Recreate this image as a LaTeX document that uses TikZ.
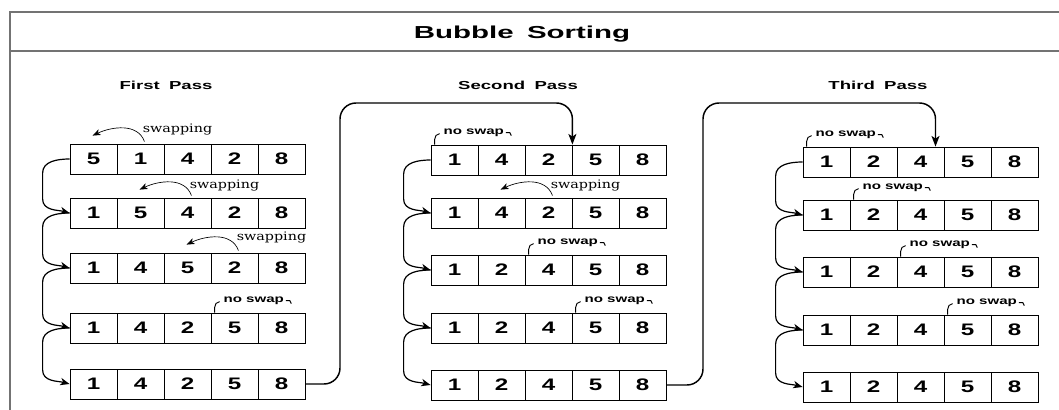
\documentclass[tikz,border=0pt]{standalone}
\usepackage{fontspec}
\setmainfont{Liberation Sans}
\newfontfamily\numfont[FakeStretch=1.45]{Liberation Sans}
\newfontfamily\ttlfont[FakeStretch=1.7]{Liberation Sans}
\newfontfamily\passfont[FakeStretch=1.6]{Liberation Sans}
\newfontfamily\nsfont[FakeStretch=1.45]{Liberation Sans}
\newfontfamily\swfont[FakeStretch=1.22]{DejaVu Serif}
\usetikzlibrary{arrows.meta,calc}

\newcommand\sortrow[4]{%
  \foreach \v [count=\i] in {#4}{%
    \node[cell] (#1c\i) at ({#2+47*\i-23.5},{-#3-15}) {\v};
  }}
\newcommand\swaparc[3]{% #1 from cell, #2 to cell, #3 text shift
  \draw[swaparr] ($(#1.north)+(4,2)$) to[out=110,in=25] ($(#2.north)+(-1,8)$);
  \node[swtext,anchor=west] at ($(#1.north)+(2,#3)$) {swapping};}
\newcommand\noswap[2]{% #1 cell whose west edge carries the foot, #2 name
  \draw[brk] ($(#1.north west)+(4,0)$) -- ++(0,5) to[out=90,in=180] ++(5,6);
  \node[nstext,anchor=west] (#2) at ($(#1.north west)+(12,12)$) {no swap};
  \draw[brk] ($(#2.east)+(1,0)$) -- ++(4,0) -- ++(1.5,-3);}

\begin{document}
\begin{tikzpicture}[x=0.75pt,y=0.75pt,
  cell/.style={draw,line width=0.6pt,minimum width=35.25pt,minimum height=22.5pt,inner sep=0pt,
    font=\numfont\bfseries\fontsize{12.5pt}{14pt}\selectfont},
  conn/.style={line width=0.9pt,-{Stealth[length=7pt,width=5.5pt,inset=2pt]}},
  passconn/.style={line width=1.1pt,rounded corners=12pt,-{Stealth[length=8pt,width=6pt,inset=2pt]}},
  swaparr/.style={line width=0.5pt,-{Stealth[length=6pt,width=4.5pt,inset=1.5pt]}},
  swtext/.style={inner sep=0pt,font=\swfont\fontsize{8.8pt}{10pt}\selectfont},
  nstext/.style={inner sep=0.5pt,font=\nsfont\bfseries\fontsize{7.8pt}{9pt}\selectfont},
  brk/.style={line width=0.7pt},
  frame/.style={draw=black!55,line width=0.8pt},
  ptitle/.style={font=\passfont\bfseries\fontsize{8.7pt}{10pt}\selectfont}]
\useasboundingbox (0,0) rectangle (1059,-410);

% frame and title
\draw[frame] (1059,-12) -- (10,-12) -- (10,-410);
\draw[frame] (10,-51) -- (1059,-51);
\node[font=\ttlfont\bfseries\fontsize{13pt}{15pt}\selectfont] (title) at (522,-34) {Bubble\hspace{10pt}Sorting};

\node[ptitle] (t1) at (166,-85) {First\hspace{7pt}Pass};
\node[ptitle] (t2) at (518,-85) {Second\hspace{7pt}Pass};
\node[ptitle] (t3) at (878,-85) {Third\hspace{7pt}Pass};

% rows
\sortrow{a1}{70}{144}{5,1,4,2,8}
\sortrow{a2}{70}{198}{1,5,4,2,8}
\sortrow{a3}{70}{253}{1,4,5,2,8}
\sortrow{a4}{70}{313}{1,4,2,5,8}
\sortrow{a5}{70}{369}{1,4,2,5,8}
\sortrow{b1}{431}{145}{1,4,2,5,8}
\sortrow{b2}{431}{198}{1,4,2,5,8}
\sortrow{b3}{431}{255}{1,2,4,5,8}
\sortrow{b4}{431}{313}{1,2,4,5,8}
\sortrow{b5}{431}{370}{1,2,4,5,8}
\sortrow{c1}{803}{147}{1,2,4,5,8}
\sortrow{c2}{803}{200}{1,2,4,5,8}
\sortrow{c3}{803}{257}{1,2,4,5,8}
\sortrow{c4}{803}{315}{1,2,4,5,8}
\sortrow{c5}{803}{372}{1,2,4,5,8}

% connectors between rows
\foreach \p in {a,b,c}{
  \foreach \r [evaluate=\r as \n using int(\r+1)] in {1,...,4}{
    \draw[conn] (\p\r c1.west) to[out=180,in=90] ++(-27,-14)
      -- ($(\p\n c1.west)+(-27,14)$) to[out=-90,in=165] (\p\n c1.west);
  }}

% connectors between passes
\coordinate (k1) at (340,-103);
\coordinate (k2) at (703,-103);
\draw[passconn] (a5c5.east) -| (k1) -| (b1c3.north east);
\draw[passconn] (b5c5.east) -| (k2) -| ($(c1c3.north)+(15,0)$);

% swaps
\swaparc{a1c2}{a1c1}{14}
\swaparc{a2c3}{a2c2}{12}
\swaparc{a3c4}{a3c3}{15}
\swaparc{b2c3}{b2c2}{12}

% no swaps
\noswap{a4c4}{n1}
\noswap{b1c1}{n2}
\noswap{b3c3}{n3}
\noswap{b4c4}{n4}
\noswap{c1c1}{n5}
\noswap{c2c2}{n6}
\noswap{c3c3}{n7}
\noswap{c4c4}{n8}
\end{tikzpicture}
\end{document}
